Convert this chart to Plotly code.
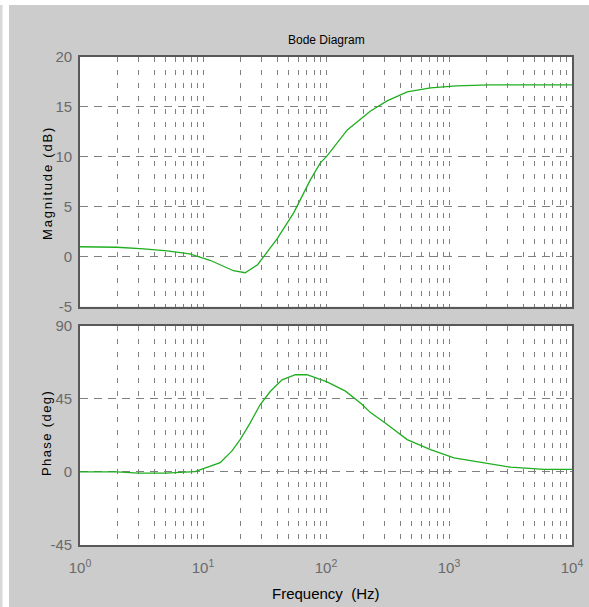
import plotly.graph_objects as go

# ---- data ----
freq_mag = [1, 2, 3.3, 5.1, 7.8, 10, 11.4, 17.7, 22, 27.8, 40, 54.6, 74.6, 90, 102,
            149, 230, 314, 457, 708, 1150, 2150, 10000]
mag_db = [1.0, 0.95, 0.78, 0.58, 0.28, -0.1, -0.35, -1.4, -1.6, -0.8, 1.8, 4.4, 7.7,
          9.4, 10.1, 12.7, 14.6, 15.6, 16.5, 16.9, 17.1, 17.2, 17.2]

freq_ph = [1, 2, 3, 4, 5, 6.5, 8.6, 13.8, 17.2, 20.1, 24.2, 29.2, 35.2, 43.9, 56.4, 70,
           102, 144, 197, 230, 305, 457, 708, 1097, 1923, 3170, 5930, 10000]
phase_deg = [0, 0, -0.8, -1.0, -0.8, -0.3, 0.2, 5.7, 12.9, 20, 30.2, 41.5, 49.5, 56.7,
             59.8, 59.8, 55.4, 49.7, 41.5, 36.5, 30, 19.9, 13.7, 8.6, 5.5, 2.9, 1.5, 1.5]

mag_ticks = [-5, 0, 5, 10, 15, 20]
mag_labels = ["-5", "0", "5", "10", "15", "20"]
phase_ticks = [-45, 0, 45, 90]
phase_labels = ["-45", "0", "45", "90"]
decades = [1, 10, 100, 1000, 10000]
decade_labels = ["10<sup>0</sup>", "10<sup>1</sup>", "10<sup>2</sup>", "10<sup>3</sup>", "10<sup>4</sup>"]

# ---- styling ----
W, H = 589, 607
L, R, T, B = 80, 17, 57, 62
PW, PH = W - L - R, H - T - B
FONT = "Liberation Sans Narrow, Arial Narrow, Liberation Sans, Arial"
GREEN = "#1fae1f"
GRID = "#808080"
BORDER = "#585858"
TICKC = "#6a6a6a"

minor_vals = []
for d in decades[:-1]:
    for k in range(2, 10):
        minor_vals.append(d * k)

def px(x):
    return (x - L) / PW

def py(y):
    return (H - B - y) / PH

fig = go.Figure()
fig.add_trace(go.Scatter(x=freq_mag, y=mag_db, mode="lines",
                         line=dict(color=GREEN, width=1.3), xaxis="x", yaxis="y",
                         showlegend=False, hoverinfo="skip"))
fig.add_trace(go.Scatter(x=freq_ph, y=phase_deg, mode="lines",
                         line=dict(color=GREEN, width=1.3), xaxis="x2", yaxis="y2",
                         showlegend=False, hoverinfo="skip"))

common_x = dict(type="log", range=[0, 4], tickvals=decades, ticktext=decade_labels,
                tickangle=0, showgrid=True,
                gridcolor=GRID, griddash="5px,8px", gridwidth=1,
                minor=dict(tickvals=minor_vals, showgrid=True, gridcolor=GRID,
                           griddash="5px,8px", gridwidth=1, ticks=""),
                showline=True, linecolor=BORDER, linewidth=1.6, mirror=True,
                ticks="", zeroline=False, automargin=False,
                tickfont=dict(family=FONT, size=15, color=TICKC))
common_y = dict(showgrid=True, gridcolor=GRID, griddash="8px,6px", gridwidth=1,
                showline=True, linecolor=BORDER, linewidth=1.6, mirror=True,
                ticks="", zeroline=False, ticklabelstandoff=3, automargin=False,
                tickfont=dict(family=FONT, size=15, color=TICKC))

top_dom = [py(306.7), 1.0]
bot_dom = [0.0, py(325.7)]

fig.update_layout(
    width=W, height=H, autosize=False,
    margin=dict(l=L, r=R, t=T, b=B, autoexpand=False),
    paper_bgcolor="#cccccc", plot_bgcolor="white",
    xaxis=dict(**common_x, domain=[0, 1], anchor="y", showticklabels=False),
    yaxis=dict(**common_y, domain=top_dom, anchor="x", range=[-5, 20],
               tickvals=mag_ticks, ticktext=mag_labels),
    xaxis2=dict(**common_x, domain=[0, 1], anchor="y2",
                ticklabelstandoff=8, matches="x"),
    yaxis2=dict(**common_y, domain=bot_dom, anchor="x2", range=[-45, 90],
                tickvals=phase_ticks, ticktext=phase_labels),
    shapes=[
        dict(type="rect", xref="paper", yref="paper", x0=px(0), x1=px(9), y0=py(H), y1=py(0),
             fillcolor="white", line=dict(width=0), layer="below"),
        dict(type="rect", xref="paper", yref="paper", x0=px(0), x1=px(2.5), y0=py(H), y1=py(0),
             fillcolor="#d8d8d8", line=dict(width=0), layer="below"),
        dict(type="rect", xref="paper", yref="paper", x0=px(0), x1=px(W), y0=py(5), y1=py(0),
             fillcolor="white", line=dict(width=0), layer="below"),
    ],
    annotations=[
        dict(text="Bode Diagram", xref="paper", yref="paper", x=px(326), y=py(40),
             showarrow=False, font=dict(family="Liberation Sans, Arial", size=12, color="black"),
             xanchor="center", yanchor="middle"),
        dict(text='<span style="letter-spacing:1.8px">Magnitude (dB)</span>',
             xref="paper", yref="paper", x=px(47), y=py(183),
             textangle=-90, showarrow=False,
             font=dict(family="Liberation Sans, Arial", size=13, color="black"),
             xanchor="center", yanchor="middle"),
        dict(text='<span style="letter-spacing:1.4px">Phase (deg)</span>',
             xref="paper", yref="paper", x=px(46), y=py(433),
             textangle=-90, showarrow=False,
             font=dict(family="Liberation Sans, Arial", size=13, color="black"),
             xanchor="center", yanchor="middle"),
        dict(text="Frequency  (Hz)", xref="paper", yref="paper", x=px(326), y=py(593),
             showarrow=False, font=dict(family=FONT, size=15, color="black"),
             xanchor="center", yanchor="middle"),
    ],
)

fig.write_html("out.html", config={"responsive": False})
